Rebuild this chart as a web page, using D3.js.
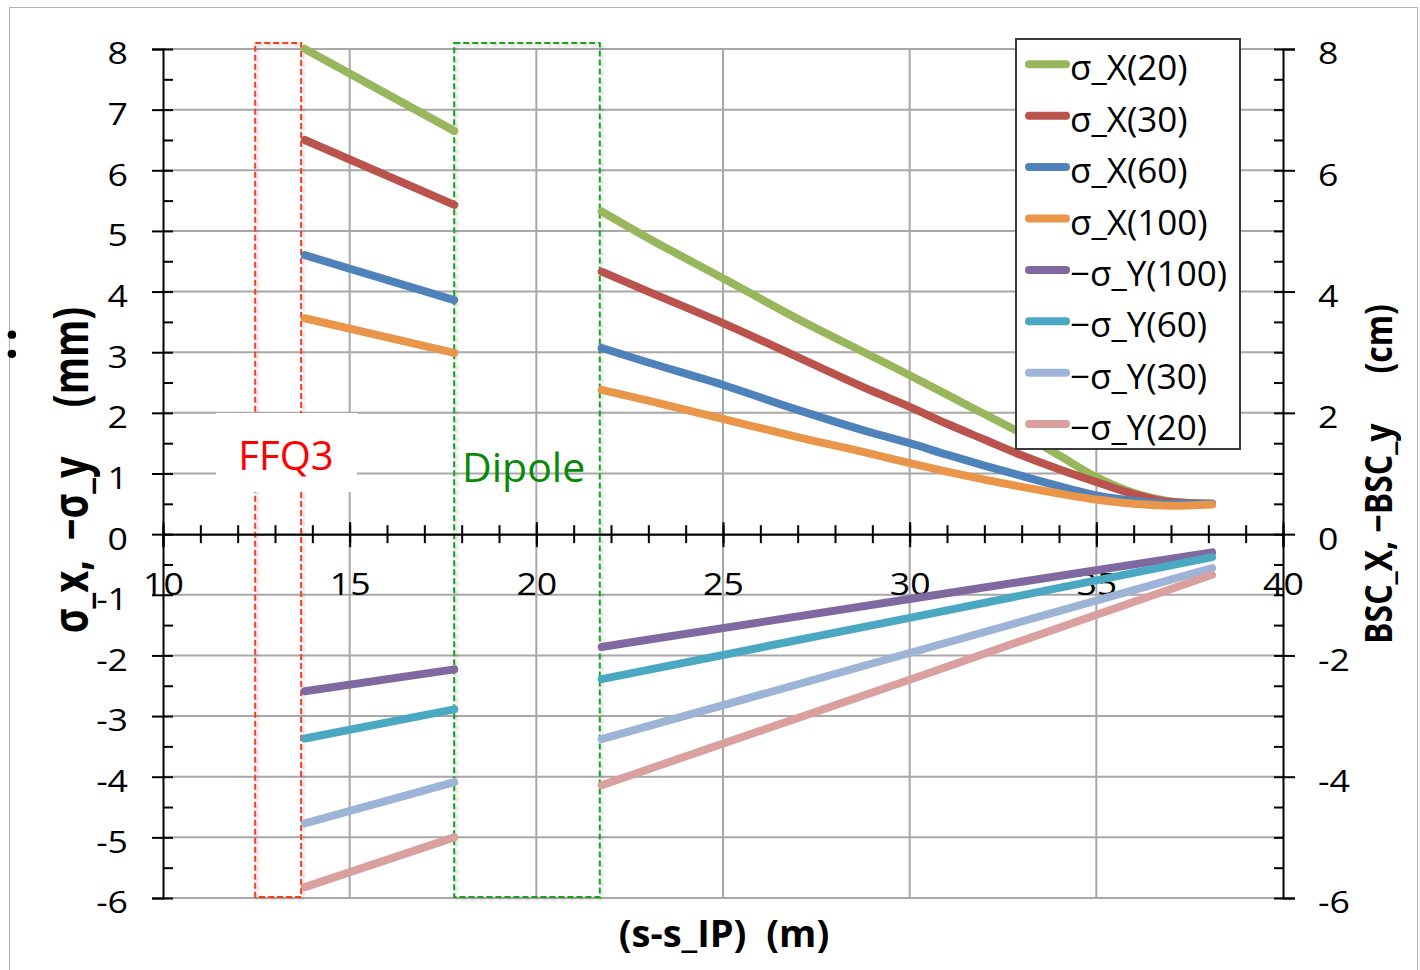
<!DOCTYPE html>
<html><head><meta charset="utf-8">
<script src="https://cdn.jsdelivr.net/npm/d3@7"></script>
<style>
body{margin:0;background:#fff}
text{font-family:'Open Sans',sans-serif}
</style>
</head><body>
<svg id="c" width="1420" height="970"></svg>
<script>
// ---------- data ----------
const seriesNames = ["σ_X(20)","σ_X(30)","σ_X(60)","σ_X(100)","−σ_Y(100)","−σ_Y(60)","−σ_Y(30)","−σ_Y(20)"];
const seriesColors = ["#98B65B","#BA524E","#4F82BA","#E9954A","#8068A0","#4AA8C2","#9EB4D6","#D9A09F"];
// s positions (m)
const sSeg1 = [13.8, 17.8];
const sSeg2X = [21.75, 23, 25, 27, 29, 30, 31, 32, 33, 34, 35, 36, 37, 38.1];
const sSeg2Y = [21.75, 30, 38.1];
// sigma_X (mm), segment before dipole / after dipole
const sigX20a = [8.0, 6.65];
const sigX20b = [5.32, 4.88, 4.22, 3.55, 2.93, 2.62, 2.30, 1.98, 1.66, 1.30, 0.94, 0.68, 0.54, 0.50];
const sigX30a = [6.5, 5.43];
const sigX30b = [4.33, 4.00, 3.48, 2.92, 2.36, 2.10, 1.82, 1.56, 1.30, 1.07, 0.86, 0.66, 0.53, 0.50];
const sigX60a = [4.6, 3.86];
const sigX60b = [3.07, 2.83, 2.46, 2.05, 1.67, 1.50, 1.31, 1.13, 0.96, 0.79, 0.64, 0.55, 0.50, 0.50];
const sigX100a = [3.56, 2.99];
const sigX100b = [2.38, 2.20, 1.90, 1.60, 1.32, 1.17, 1.03, 0.90, 0.78, 0.67, 0.57, 0.50, 0.47, 0.49];
// -sigma_Y (mm)
const sigY100a = [-2.59, -2.23];
const sigY100b = [-1.86, -1.07, -0.30];
const sigY60a = [-3.37, -2.89];
const sigY60b = [-2.39, -1.38, -0.38];
const sigY30a = [-4.77, -4.09];
const sigY30b = [-3.38, -1.96, -0.56];
const sigY20a = [-5.82, -5.00];
const sigY20b = [-4.14, -2.40, -0.67];
// axes
const xMajor = [10, 15, 20, 25, 30, 35, 40];
const xMinor = d3.range(10, 41, 1);
const yMajor = [8, 7, 6, 5, 4, 3, 2, 1, 0, -1, -2, -3, -4, -5, -6];
const yHalf = d3.range(-6, 8.01, 0.5);
const yRMajor = [8, 6, 4, 2, 0, -2, -4, -6];
const xGrid = [15, 20, 25, 30, 35];
// element boxes (m)
const ffq3 = [12.47, 13.7];
const dipole = [17.8, 21.7];

// ---------- chart ----------
const svg = d3.select('#c');
const x = d3.scaleLinear([10, 40], [163, 1283]);
const y = d3.scaleLinear([-6, 8], [898, 49]);

const defs = svg.append('defs');
const f = defs.append('filter').attr('id','sh').attr('x','-20%').attr('y','-5%').attr('width','140%').attr('height','110%');
f.append('feDropShadow').attr('dx',2).attr('dy',2).attr('stdDeviation',1.5).attr('flood-color','#000').attr('flood-opacity',0.22);

// outer frame
svg.append('rect').attr('x',9.5).attr('y',7.5).attr('width',1408).attr('height',970)
  .attr('fill','none').attr('stroke','#b4b4b4').attr('stroke-width',1);

// gridlines
const grid = svg.append('g').attr('stroke','#a8a8a8').attr('stroke-width',2);
grid.selectAll('.h').data(yMajor).join('line')
  .attr('x1', x(10)).attr('x2', x(40)).attr('y1', d=>y(d)).attr('y2', d=>y(d));
grid.selectAll('.v').data(xGrid).join('line')
  .attr('y1', y(8)).attr('y2', y(-6)).attr('x1', d=>x(d)).attr('x2', d=>x(d));

// element boxes
svg.append('rect').attr('x', x(ffq3[0])).attr('y', 43).attr('width', x(ffq3[1])-x(ffq3[0])).attr('height', 854)
  .attr('fill','none').attr('stroke','#FF3A1E').attr('stroke-width',2).attr('stroke-dasharray','6,3').attr('filter','url(#sh)');
svg.append('rect').attr('x', x(dipole[0])).attr('y', 43).attr('width', x(dipole[1])-x(dipole[0])).attr('height', 854)
  .attr('fill','none').attr('stroke','#1BA01B').attr('stroke-width',2).attr('stroke-dasharray','6,3').attr('filter','url(#sh)');

// FFQ3 label box
svg.append('rect').attr('x',216).attr('y',413).attr('width',141).attr('height',79).attr('fill','#fff');
svg.append('text').attr('x',286).attr('y',470).attr('text-anchor','middle')
  .attr('font-size',40).attr('fill','#FF0000').text('FFQ3');
svg.append('text').attr('x',462).attr('y',482)
  .attr('font-size',41).attr('fill','#088A08').text('Dipole');

// axes
function styleAxis(g){
  g.selectAll('.domain').attr('stroke','#000').attr('stroke-width',2);
  g.selectAll('.tick line').attr('stroke','#000').attr('stroke-width',2);
  g.selectAll('.tick text').attr('font-size',31).attr('fill','#000').attr('font-family',"'Open Sans',sans-serif");
}
const SX = 1.15;
// left
const gLi = svg.append('g').attr('transform',`translate(${x(10)},0)`)
  .call(d3.axisLeft(y).tickValues(yHalf).tickSize(-10).tickFormat(''));
gLi.select('.domain').remove(); styleAxis(gLi);
const gL = svg.append('g').attr('transform',`translate(${x(10)},0)`)
  .call(d3.axisLeft(y).tickValues(yMajor).tickSize(11).tickPadding(24).tickFormat(d=>d));
styleAxis(gL);
gL.selectAll('.tick text').attr('x', -35/SX).attr('dy','0.48em').attr('transform',`scale(${SX},1)`);
// right
const gRi = svg.append('g').attr('transform',`translate(${x(40)},0)`)
  .call(d3.axisRight(y).tickValues(yHalf).tickSize(-9).tickFormat(''));
gRi.select('.domain').remove(); styleAxis(gRi);
const gR = svg.append('g').attr('transform',`translate(${x(40)},0)`)
  .call(d3.axisRight(y).tickValues(yRMajor).tickSize(12).tickPadding(23).tickFormat(d=>d));
styleAxis(gR);
gR.selectAll('.tick text').attr('x', 35/SX).attr('dy','0.48em').attr('transform',`scale(${SX},1)`);
// x axis at y=0
const y0 = y(0);
const gXt = svg.append('g').attr('transform',`translate(0,${y0})`)
  .call(d3.axisTop(x).tickValues(xMinor).tickSize(9).tickFormat(''));
gXt.select('.domain').remove(); styleAxis(gXt);
const gXt2 = svg.append('g').attr('transform',`translate(0,${y0})`)
  .call(d3.axisTop(x).tickValues(xMajor).tickSize(12).tickFormat(''));
gXt2.select('.domain').remove(); styleAxis(gXt2);
const gXb = svg.append('g').attr('transform',`translate(0,${y0})`)
  .call(d3.axisBottom(x).tickValues(xMinor).tickSize(9).tickFormat(''));
gXb.select('.domain').remove(); styleAxis(gXb);
const gX = svg.append('g').attr('transform',`translate(0,${y0})`)
  .call(d3.axisBottom(x).tickValues(xMajor).tickSize(13).tickPadding(26).tickFormat(d=>d));
styleAxis(gX);
gX.selectAll('.tick text').attr('transform',`scale(${SX},1)`);

// titles
svg.append('text').attr('transform',`translate(88,470) scale(1.25,1) rotate(-90)`)
  .attr('text-anchor','middle').attr('font-size',38).attr('font-weight','bold')
  .style('white-space','pre').text('σ_x,  −σ_y     (mm)');
svg.append('text').attr('transform',`translate(1392,474) scale(1.2,1) rotate(-90)`)
  .attr('text-anchor','middle').attr('font-size',32).attr('font-weight','bold')
  .style('white-space','pre').text('BSC_X, −BSC_y      (cm)');
svg.append('text').attr('x',724).attr('y',947).attr('text-anchor','middle')
  .attr('font-size',38).attr('font-weight','bold').style('white-space','pre').text('(s-s_IP)  (m)');
svg.append('text').attr('x',12).attr('y',358).attr('text-anchor','middle')
  .attr('font-size',50).attr('font-weight','bold').text(':');

// series
const segA = [sigX20a, sigX30a, sigX60a, sigX100a, sigY100a, sigY60a, sigY30a, sigY20a];
const segB = [sigX20b, sigX30b, sigX60b, sigX100b, sigY100b, sigY60b, sigY30b, sigY20b];
const line = d3.line().x(d=>x(d[0])).y(d=>y(d[1])).curve(d3.curveMonotoneX);
const gS = svg.append('g').attr('fill','none').attr('stroke-width',8).attr('stroke-linecap','round').attr('stroke-linejoin','round');
seriesNames.forEach((n,i)=>{
  const xs2 = i < 4 ? sSeg2X : sSeg2Y;
  gS.append('path').attr('stroke', seriesColors[i]).attr('d', line(sSeg1.map((s,k)=>[s, segA[i][k]])));
  gS.append('path').attr('stroke', seriesColors[i]).attr('d', line(xs2.map((s,k)=>[s, segB[i][k]])));
});

// legend
const lg = svg.append('g');
lg.append('rect').attr('x',1016).attr('y',39).attr('width',224).attr('height',410)
  .attr('fill','#fff').attr('stroke','#3a3a3a').attr('stroke-width',2);
seriesNames.forEach((n,i)=>{
  const cy = 64.3 + i*51.4;
  lg.append('line').attr('x1',1029).attr('x2',1066).attr('y1',cy).attr('y2',cy)
    .attr('stroke',seriesColors[i]).attr('stroke-width',8).attr('stroke-linecap','round');
  lg.append('text').attr('x',1070).attr('y',cy+16).attr('font-size',35).attr('fill','#000').text(n);
});
</script>
</body></html>
